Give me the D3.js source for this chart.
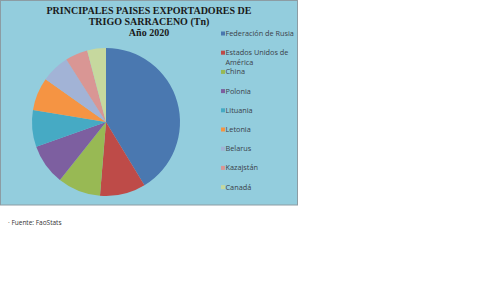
<!DOCTYPE html>
<html>
<head>
<meta charset="utf-8">
<script src="https://cdn.jsdelivr.net/npm/d3@7"></script>
<style>
  body { margin: 0; background: #fff; }
  svg { display: block; }
</style>
</head>
<body>
<svg width="480" height="300"></svg>
<script>
// datos (porcentaje aprox.)
var paises = ["Federación de Rusia", "Estados Unidos de América", "China", "Polonia",
              "Lituania", "Letonia", "Belarus", "Kazajstán", "Canadá"];
var valores = [41.3, 10.0, 9.4, 8.9, 8.0, 7.2, 6.2, 4.9, 4.1];
var colores = ["#4A78B0", "#BE4B48", "#98B954", "#7D5FA0", "#46AAC4",
               "#F59443", "#A2B3D6", "#D99694", "#C6D89E"];
var titulo = ["PRINCIPALES PAISES EXPORTADORES DE", "TRIGO SARRACENO (Tn)", "Año 2020"];
var fuente = "· Fuente: FaoStats";

var svg = d3.select("svg");

// fondo del area del grafico
svg.append("rect")
  .attr("x", 0.5).attr("y", 0.5)
  .attr("width", 297).attr("height", 204.5)
  .attr("fill", "#93CDDD")
  .attr("stroke", "#8C9CA3");

// titulo
svg.append("g").selectAll("text")
  .data(titulo)
  .enter().append("text")
  .attr("x", 149)
  .attr("y", function(d, i) { return 14 + i * 11.2; })
  .attr("text-anchor", "middle")
  .style("font-family", "'Liberation Serif', serif")
  .style("font-weight", "bold")
  .style("font-size", "10px")
  .style("fill", "#1a1a1a")
  .text(function(d) { return d; });

// torta
var pie = d3.pie().sort(null).value(function(d) { return d; });
var arc = d3.arc().innerRadius(0).outerRadius(74);

var g = svg.append("g").attr("transform", "translate(106,122)");
g.selectAll("path")
  .data(pie(valores))
  .enter().append("path")
  .attr("d", arc)
  .attr("fill", function(d, i) { return colores[i]; });

// leyenda
var leyenda = svg.append("g").attr("transform", "translate(221,0)");
var item = leyenda.selectAll("g")
  .data(paises)
  .enter().append("g")
  .attr("transform", function(d, i) { return "translate(0," + (33.5 + i * 19.2) + ")"; });

item.append("rect")
  .attr("x", 0).attr("y", -2)
  .attr("width", 4).attr("height", 4)
  .attr("fill", function(d, i) { return colores[i]; });

item.append("text")
  .style("font-family", "'Open Sans', sans-serif")
  .style("font-size", "7.3px")
  .style("fill", "#3a3f4a")
  .each(function(d) {
    var t = d3.select(this);
    var partes = d == "Estados Unidos de América" ? ["Estados Unidos de", "América"] : [d];
    partes.forEach(function(p, k) {
      t.append("tspan").attr("x", 4.5).attr("dy", k == 0 ? "0.35em" : "9.3px").text(p);
    });
  });

// fuente
svg.append("text")
  .attr("x", 8)
  .attr("y", 225)
  .style("font-family", "'Open Sans', sans-serif")
  .style("font-size", "6.5px")
  .style("fill", "#333")
  .text(fuente);
</script>
</body>
</html>
